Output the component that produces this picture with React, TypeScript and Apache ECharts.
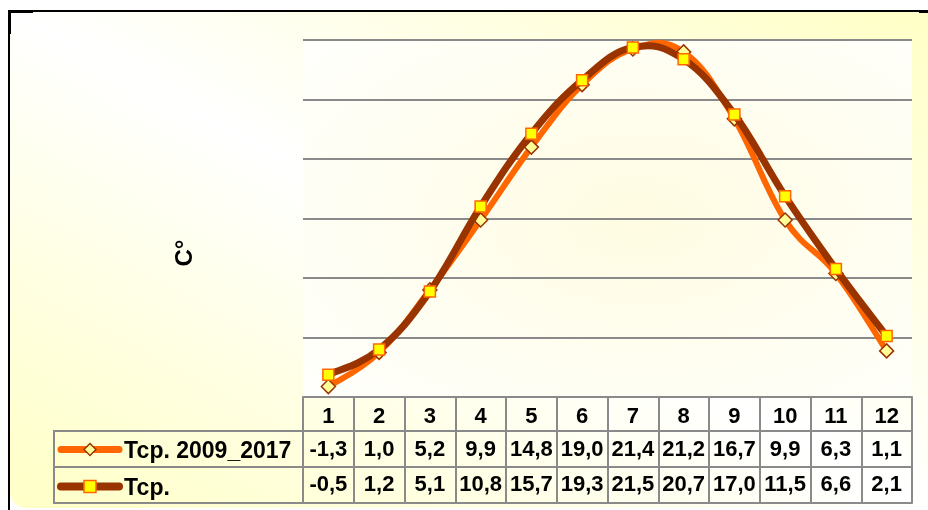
import React, { useEffect, useRef } from 'react';
import * as echarts from 'echarts';

// ---- data ----
const months = ['1', '2', '3', '4', '5', '6', '7', '8', '9', '10', '11', '12'];
const seriesNames = ['Тср. 2009_2017', 'Тср.'];
const t2009_2017 = [-1.3, 1.0, 5.2, 9.9, 14.8, 19.0, 21.4, 21.2, 16.7, 9.9, 6.3, 1.1];
const tAvg = [-0.5, 1.2, 5.1, 10.8, 15.7, 19.3, 21.5, 20.7, 17.0, 11.5, 6.6, 2.1];
const gridValues = [2, 6, 10, 14, 18, 22];
const yMin = -2;
const yMax = 22;
const yTitle = 'С°';

const fmt = (v: number) => v.toFixed(1).replace('.', ',');

// smooth curve (Excel-like Catmull-Rom) drawn through the chart's own scales
const makeCurve = (values: number[], color: string, width: number, z: number) => ({
  type: 'custom',
  z,
  silent: true,
  clip: false,
  xAxisIndex: 0,
  yAxisIndex: 0,
  data: values.map((v, i) => [i, v]),
  renderItem: (params: any, api: any) => {
    const i = params.dataIndex;
    if (i === 0) return null;
    const n = values.length;
    const pt = (k: number) => {
      const kk = Math.max(0, Math.min(n - 1, k));
      return api.coord([kk, values[kk]]);
    };
    const p0 = pt(i - 2);
    const p1 = pt(i - 1);
    const p2 = pt(i);
    const p3 = pt(i + 1);
    const t = 0.2;
    return {
      type: 'bezierCurve',
      shape: {
        x1: p1[0],
        y1: p1[1],
        x2: p2[0],
        y2: p2[1],
        cpx1: p1[0] + (p2[0] - p0[0]) * t,
        cpy1: p1[1] + (p2[1] - p0[1]) * t,
        cpx2: p2[0] - (p3[0] - p1[0]) * t,
        cpy2: p2[1] - (p3[1] - p1[1]) * t,
      },
      style: { stroke: color, lineWidth: width, fill: 'none', lineCap: 'round' },
    };
  },
});

export default function App() {
  const ref = useRef<HTMLDivElement>(null);

  useEffect(() => {
    const chart = echarts.init(ref.current!, null, { renderer: 'svg' });
    const font = '"Liberation Sans", Arial, sans-serif';
    const gray = '#8a8a8a';
    const orange = '#FF6600';
    const brown = '#993300';
    const gridLeft = 303;
    const gridRight = 912;
    const gridTop = 40;
    const tableTop = 397;
    const rowOffsets = [34, 70, 106];

    const labelBase = {
      fontFamily: font,
      fontSize: 22,
      fontWeight: 'bold' as const,
      color: '#000',
      interval: 0,
    };
    const axisLineStyle = { show: true, onZero: false, lineStyle: { color: gray, width: 2 } };

    const option: any = {
      animation: false,
      grid: {
        left: gridLeft,
        right: 928 - gridRight,
        top: gridTop,
        bottom: 510 - tableTop,
        containLabel: false,
      },
      xAxis: [
        {
          type: 'category',
          data: months,
          position: 'bottom',
          boundaryGap: true,
          axisLine: axisLineStyle,
          axisTick: { show: true, interval: 0, length: rowOffsets[2], lineStyle: { color: gray, width: 2 } },
          axisLabel: { ...labelBase, margin: 7 },
          splitLine: { show: false },
        },
        {
          type: 'category',
          data: t2009_2017.map(fmt),
          position: 'bottom',
          offset: rowOffsets[0],
          boundaryGap: true,
          axisLine: axisLineStyle,
          axisTick: { show: false },
          axisLabel: { ...labelBase, margin: 6 },
          splitLine: { show: false },
        },
        {
          type: 'category',
          data: tAvg.map(fmt),
          position: 'bottom',
          offset: rowOffsets[1],
          boundaryGap: true,
          axisLine: axisLineStyle,
          axisTick: { show: false },
          axisLabel: { ...labelBase, margin: 5 },
          splitLine: { show: false },
        },
        {
          type: 'category',
          data: months,
          position: 'bottom',
          offset: rowOffsets[2],
          boundaryGap: true,
          axisLine: axisLineStyle,
          axisTick: { show: false },
          axisLabel: { show: false },
          splitLine: { show: false },
        },
      ],
      yAxis: {
        type: 'value',
        min: yMin,
        max: yMax,
        axisLine: { show: false },
        axisTick: { show: false },
        axisLabel: { show: false },
        splitLine: { show: false },
      },
      legend: {
        orient: 'vertical',
        left: 57,
        top: 438,
        padding: 0,
        itemWidth: 58,
        itemHeight: 15,
        itemGap: 14,
        selectedMode: false,
        textStyle: { fontFamily: font, fontSize: 23, fontWeight: 'bold', color: '#000', lineHeight: 22 },
        itemStyle: { borderWidth: 1.5 },
        data: [
          { name: seriesNames[0], lineStyle: { color: orange, width: 7, opacity: 1, cap: 'round' } },
          { name: seriesNames[1], lineStyle: { color: brown, width: 8, opacity: 1, cap: 'round' } },
        ],
      },
      series: [
        makeCurve(t2009_2017, orange, 6, 3),
        {
          name: seriesNames[0],
          type: 'line',
          data: t2009_2017,
          symbol: 'diamond',
          symbolSize: 14,
          z: 4,
          lineStyle: { color: orange, width: 6, opacity: 0 },
          itemStyle: { color: '#FFFF99', borderColor: brown, borderWidth: 1.5 },
          markLine: {
            silent: true,
            z: 1,
            symbol: 'none',
            label: { show: false },
            lineStyle: { color: gray, width: 2, type: 'solid', opacity: 1 },
            emphasis: { disabled: true },
            data: gridValues.map((v) => ({ yAxis: v })),
          },
        },
        makeCurve(tAvg, brown, 7, 5),
        {
          name: seriesNames[1],
          type: 'line',
          data: tAvg,
          symbol: 'rect',
          symbolSize: 11,
          z: 6,
          lineStyle: { color: brown, width: 7, opacity: 0 },
          itemStyle: { color: '#FFFF00', borderColor: orange, borderWidth: 1.5 },
        },
      ],
      graphic: [
        {
          type: 'rect',
          silent: true,
          z: -20,
          shape: { x: 10, y: 12, width: 918, height: 496, r: [0, 0, 0, 16] },
          style: {
            fill: new echarts.graphic.LinearGradient(0, 1, 1, 0, [
              { offset: 0, color: '#FFFFC6' },
              { offset: 0.5, color: '#FFFFFF' },
              { offset: 1, color: '#FFFFC6' },
            ]),
          },
        },
        {
          type: 'rect',
          silent: true,
          z: -19,
          shape: { x: gridLeft, y: gridTop, width: gridRight - gridLeft, height: tableTop - gridTop },
          style: {
            fill: new echarts.graphic.RadialGradient(0.55, 0.5, 0.7, [
              { offset: 0, color: '#FFFCE2' },
              { offset: 1, color: '#FFFFFB' },
            ]),
          },
        },
        // frame
        { type: 'line', silent: true, shape: { x1: 8, y1: 11, x2: 928, y2: 11 }, style: { stroke: '#000', lineWidth: 2 } },
        { type: 'line', silent: true, shape: { x1: 9, y1: 10, x2: 9, y2: 510 }, style: { stroke: '#000', lineWidth: 2 } },
        { type: 'rect', silent: true, shape: { x: 8, y: 10, width: 25, height: 3 }, style: { fill: '#000' } },
        { type: 'rect', silent: true, shape: { x: 8, y: 10, width: 3, height: 24 }, style: { fill: '#000' } },
        { type: 'rect', silent: true, shape: { x: 919, y: 10, width: 9, height: 3 }, style: { fill: '#000' } },
        // legend cell box
        ...[431, 467, 503].map((y) => ({
          type: 'line',
          silent: true,
          shape: { x1: 54, y1: y, x2: gridLeft, y2: y },
          style: { stroke: gray, lineWidth: 2 },
        })),
        { type: 'line', silent: true, shape: { x1: 54, y1: 430, x2: 54, y2: 504 }, style: { stroke: gray, lineWidth: 2 } },
        // y axis title
        {
          type: 'text',
          silent: true,
          x: 183,
          y: 253,
          rotation: Math.PI / 2,
          style: {
            text: yTitle,
            font: `bold 24px ${font}`,
            fill: '#000',
            align: 'center',
            verticalAlign: 'middle',
          },
        },
      ],
    };

    chart.setOption(option);
    return () => chart.dispose();
  }, []);

  return <div ref={ref} style={{ position: 'fixed', left: 0, top: 0, width: 928, height: 510 }} />;
}
